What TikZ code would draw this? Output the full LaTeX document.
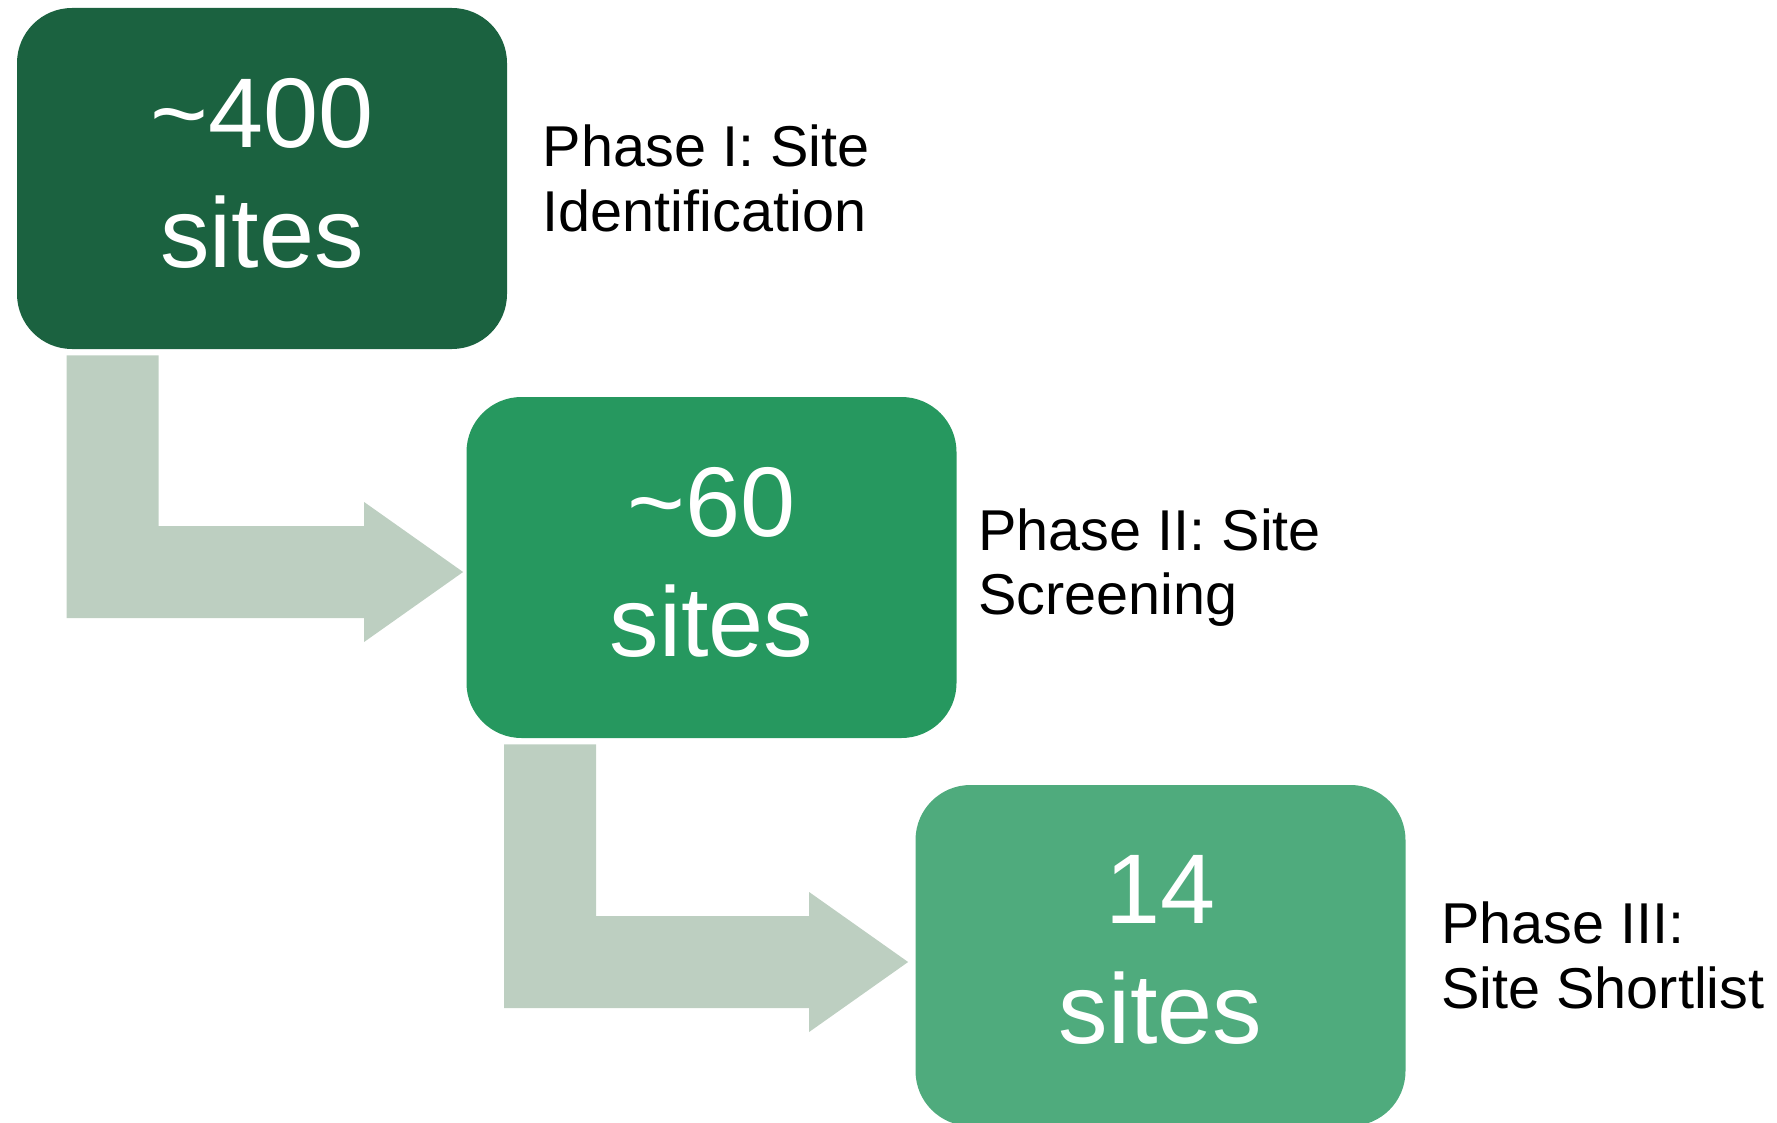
\documentclass[tikz,border=0pt]{standalone}
\usepackage{fontspec}
\setmainfont{Liberation Sans}
\usetikzlibrary{calc,positioning}
\definecolor{PhaseOne}{RGB}{27,98,64}
\definecolor{PhaseTwo}{RGB}{38,152,95}
\definecolor{PhaseThree}{RGB}{79,171,125}
\definecolor{Flow}{RGB}{189,207,193}

\begin{document}
\begin{tikzpicture}[x=0.5pt, y=-0.5pt,
    stagebox/.style={rounded corners=27.5pt, minimum width=245pt, minimum height=170.5pt,
        inner sep=0pt, align=center, text=white, text depth=6pt,
        font=\fontsize{49.5pt}{60pt}\selectfont},
    phaselabel/.style={inner sep=0pt, align=left, font=\fontsize{28.8pt}{32.3pt}\selectfont},
    flow/.style={fill=Flow, draw=none}]
    %% Background
    \useasboundingbox (0,0) rectangle (1777,1123);

    %% Stages
    \node[stagebox, fill=PhaseOne] (p1) at (262,178.5) {\textasciitilde400\\sites};
    \node[stagebox, fill=PhaseTwo] (p2) at (711.5,567.5) {\textasciitilde60\\sites};
    \node[stagebox, fill=PhaseThree] (p3) at (1160.5,955.5) {14\\sites};

    %% Labels
    \node[phaselabel, right=17.5pt of p1] (l1) {Phase I: Site\\Identification};
    \node[phaselabel, right=10.5pt of p2] (l2) {Phase II: Site\\Screening};
    \node[phaselabel, right=17.5pt of p3] (l3) {Phase III:\\Site Shortlist};

    %% Flow arrows
    \coordinate (t1) at ($(p2.west)+(-3,4.5)$);
    \fill[flow] ($(p1.south west)+(50,6)$) coordinate (a1) -- ++(92,0) coordinate (a2)
        -- ($(a2 |- t1)+(0,-46)$) -- ($(t1)+(-99,-46)$) -- ($(t1)+(-99,-70)$) -- (t1)
        -- ($(t1)+(-99,70)$) -- ($(t1)+(-99,46)$) -- ($(a1 |- t1)+(0,46)$) -- cycle;

    \coordinate (t2) at ($(p3.west)+(-7,6.5)$);
    \fill[flow] ($(p2.south west)+(38,6)$) coordinate (b1) -- ++(92,0) coordinate (b2)
        -- ($(b2 |- t2)+(0,-46)$) -- ($(t2)+(-99,-46)$) -- ($(t2)+(-99,-70)$) -- (t2)
        -- ($(t2)+(-99,70)$) -- ($(t2)+(-99,46)$) -- ($(b1 |- t2)+(0,46)$) -- cycle;
\end{tikzpicture}
\end{document}
